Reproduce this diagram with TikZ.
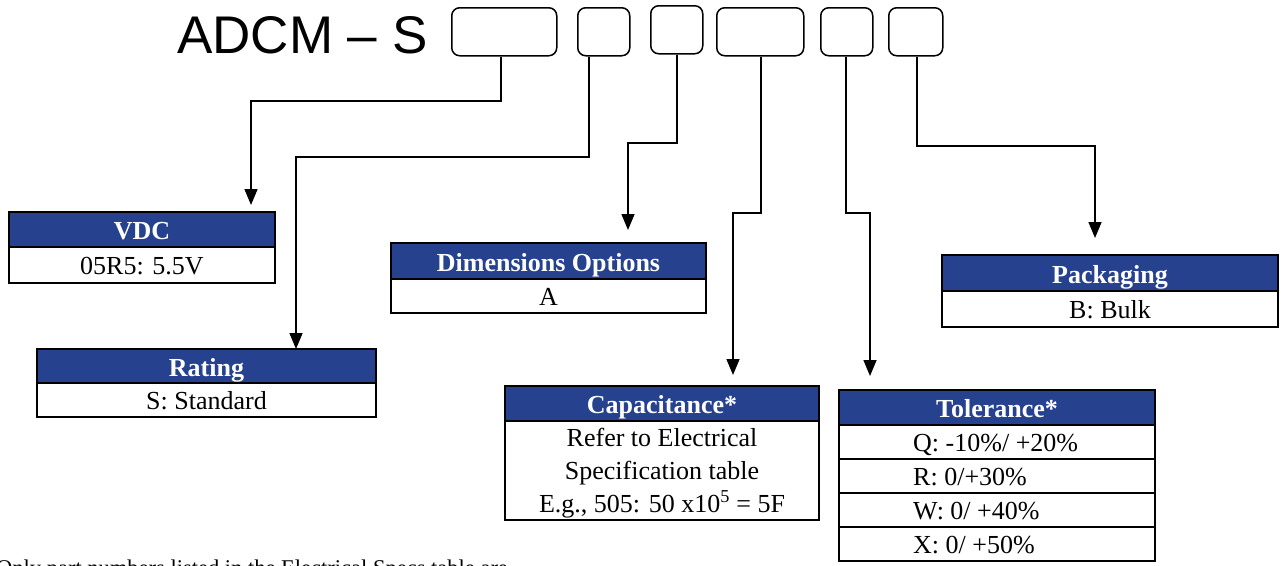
\documentclass[tikz,border=0pt]{standalone}
\usepackage{fontspec}
\setmainfont{Liberation Serif}
\newfontfamily\arialfont{Liberation Sans}
\usetikzlibrary{arrows.meta,positioning}
\definecolor{hdrblue}{RGB}{38,66,143}
\tikzset{
  x=1pt,y=-1pt,
  topbox/.style={draw,line width=1.5pt,rounded corners=8pt,minimum height=48pt,inner sep=0pt},
  hdr/.style={draw,line width=2pt,fill=hdrblue,text=white,font=\fontsize{26}{30}\selectfont\bfseries,inner sep=0pt,outer sep=0pt,anchor=north west,text height=20pt,text depth=0pt},
  body/.style={draw,line width=2pt,fill=white,font=\fontsize{26}{30}\selectfont,inner sep=0pt,outer sep=0pt,anchor=north west,text height=18pt,text depth=0pt},
  rowtxt/.style={anchor=west,inner sep=0pt,font=\fontsize{26}{30}\selectfont,text height=18pt,text depth=0pt},
  captxt/.style={anchor=base,inner sep=0pt,font=\fontsize{26}{30}\selectfont},
  conn/.style={line width=1.5pt,-{Triangle[length=16pt,width=13pt]}},
}
\begin{document}
\begin{tikzpicture}
\useasboundingbox (0,0) rectangle (1282,565);
\clip (0,0) rectangle (1282,565);
% title
\node[anchor=base west,inner sep=0pt,font=\arialfont\fontsize{53}{60}\selectfont] (title) at (177,53) {ADCM \textendash\ S};
% top boxes
\node[topbox,minimum width=105pt,anchor=north west] (b1) at (451,7) {};
\node[topbox,minimum width=52pt,anchor=north west] (b2) at (577,7) {};
\node[topbox,minimum width=52pt,anchor=north west] (b3) at (650,5) {};
\node[topbox,minimum width=87pt,anchor=north west] (b4) at (716,7) {};
\node[topbox,minimum width=52pt,anchor=north west] (b5) at (820,7) {};
\node[topbox,minimum width=54pt,anchor=north west] (b6) at (888,7) {};
% VDC
\node[hdr,minimum width=266pt,minimum height=35pt] (vdch) at (9,212) {VDC};
\node[body,minimum width=266pt,minimum height=36pt] (vdcb) at (vdch.south west) {05R5: 5.5V};
% Rating
\node[hdr,minimum width=339pt,minimum height=34pt] (rath) at (37,349) {Rating};
\node[body,minimum width=339pt,minimum height=34pt] (ratb) at (rath.south west) {S: Standard};
% Dimensions
\node[hdr,minimum width=315pt,minimum height=36pt] (dimh) at (391,243) {Dimensions Options};
\node[body,minimum width=315pt,minimum height=34pt] (dimb) at (dimh.south west) {A};
% Capacitance
\node[hdr,minimum width=314pt,minimum height=35pt] (caph) at (505,386) {Capacitance*};
\node[body,minimum width=314pt,minimum height=99pt] (capb) at (caph.south west) {};
\node[captxt] (c1) at (662,446) {Refer to Electrical};
\node[captxt] (c2) at (662,479) {Specification table};
\node[captxt] (c3) at (662,512) {E.g., 505: 50 x10\textsuperscript{5} = 5F};
% Tolerance
\node[hdr,minimum width=316pt,minimum height=35pt] (tolh) at (839,390) {Tolerance*};
\node[body,minimum width=316pt,minimum height=34pt] (tr1) at (tolh.south west) {};
\node[body,minimum width=316pt,minimum height=34pt] (tr2) at (tr1.south west) {};
\node[body,minimum width=316pt,minimum height=34pt] (tr3) at (tr2.south west) {};
\node[body,minimum width=316pt,minimum height=34pt] (tr4) at (tr3.south west) {};
\node[rowtxt] (tt1) at ([xshift=74pt]tr1.west) {Q: -10\%/ +20\%};
\node[rowtxt] (tt2) at ([xshift=74pt]tr2.west) {R: 0/+30\%};
\node[rowtxt] (tt3) at ([xshift=74pt]tr3.west) {W: 0/ +40\%};
\node[rowtxt] (tt4) at ([xshift=74pt]tr4.west) {X: 0/ +50\%};
% Packaging
\node[hdr,minimum width=336pt,minimum height=36pt] (pakh) at (942,255) {Packaging};
\node[body,minimum width=336pt,minimum height=36pt] (pakb) at (pakh.south west) {B: Bulk};
% arrow tips
\coordinate (tv) at (251,205);
\coordinate (tr) at (296,349);
\coordinate (td) at (628,230);
\coordinate (tc) at (733,375);
\coordinate (tt) at (870,376);
\coordinate (tp) at (1095,238);
% connectors
\draw[conn] (b1.south -| 501,0) -- (501,101) -| (tv);
\draw[conn] (b2.south -| 589,0) -- (589,157) -| (tr);
\draw[conn] (b3.south -| 677,0) -- (677,143) -| (td);
\draw[conn] (b4.south -| 761,0) -- (761,213) -| (tc);
\draw[conn] (b5.south -| 846,0) -- (846,213) -| (tt);
\draw[conn] (b6.south -| 917,0) -- (917,146) -| (tp);
% footnote (cut off at the lower edge, as in the reference)
\node[anchor=base west,inner sep=0pt,font=\fontsize{22.5}{26}\selectfont] (foot) at (-4,575) {Only part numbers listed in the Electrical Specs table are};
\end{tikzpicture}
\end{document}
